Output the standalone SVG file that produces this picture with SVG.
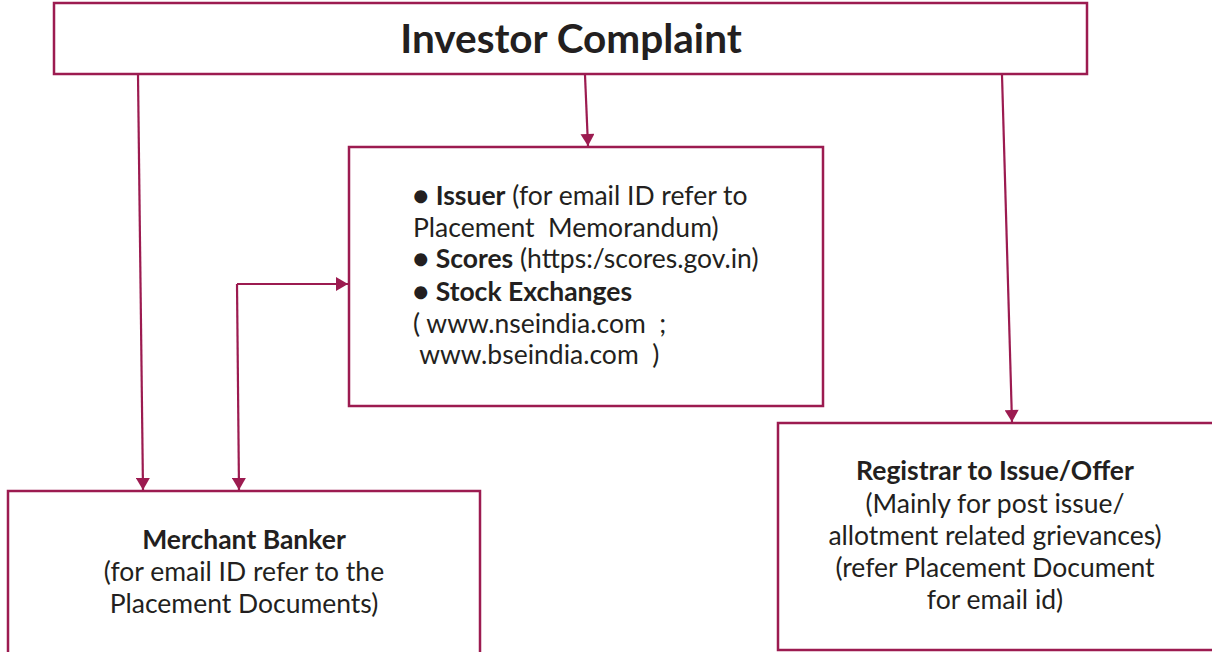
<svg xmlns="http://www.w3.org/2000/svg" width="1212" height="652" viewBox="0 0 1212 652">
<defs>
<marker id="ah" viewBox="0 0 12 14" refX="12" refY="7" markerWidth="13" markerHeight="14" markerUnits="userSpaceOnUse" orient="auto">
<path d="M0,0 L12,7 L0,14 Z" fill="#9c1b50"/>
</marker>
<style>
.box{fill:#fff;stroke:#9c1b50;stroke-width:2.5}
.ln{fill:none;stroke:#9c1b50;stroke-width:2.2;marker-end:url(#ah)}
text{font-family:Lato,"Open Sans","Liberation Sans",sans-serif;fill:#231f20;font-size:26.5px;white-space:pre}
.b{font-weight:bold}
.c{text-anchor:middle}
</style>
</defs>
<rect width="1212" height="652" fill="#fff"/>
<g id="connectors">
<path class="ln" d="M138,75 L143,490"/>
<path class="ln" d="M585,75 L588,146"/>
<path class="ln" d="M1002,75 L1012,422"/>
<path class="ln" d="M237,284 L239,490"/>
<path class="ln" d="M237,284 L348,284"/>
</g>
<g id="investor-complaint">
<rect class="box" x="54" y="3" width="1033" height="71"/>
<text class="b c" x="571" y="53" style="font-size:40.5px">Investor Complaint</text>
</g>
<g id="issuer">
<rect class="box" x="349" y="147" width="474" height="259"/>
<text x="413" y="205" xml:space="preserve">● <tspan class="b">Issuer</tspan> (for email ID refer to</text>
<text x="413" y="237" xml:space="preserve">Placement  Memorandum)</text>
<text x="413" y="268" xml:space="preserve">● <tspan class="b">Scores</tspan> (https:/scores.gov.in)</text>
<text x="413" y="301" xml:space="preserve">● <tspan class="b">Stock Exchanges</tspan></text>
<text x="413" y="333" xml:space="preserve">( www.nseindia.com  ;</text>
<text x="413" y="364" xml:space="preserve"> www.bseindia.com  )</text>
</g>
<g id="merchant-banker">
<rect class="box" x="8" y="491" width="472" height="170"/>
<text class="b c" x="244" y="549">Merchant Banker</text>
<text class="c" x="244" y="581">(for email ID refer to the</text>
<text class="c" x="244" y="613">Placement Documents)</text>
</g>
<g id="registrar">
<rect class="box" x="778" y="423" width="440" height="227"/>
<text class="b c" x="995" y="480">Registrar to Issue/Offer</text>
<text class="c" x="995" y="513">(Mainly for post issue/</text>
<text class="c" x="995" y="545">allotment related grievances)</text>
<text class="c" x="995" y="577">(refer Placement Document</text>
<text class="c" x="995" y="609">for email id)</text>
</g>
</svg>
